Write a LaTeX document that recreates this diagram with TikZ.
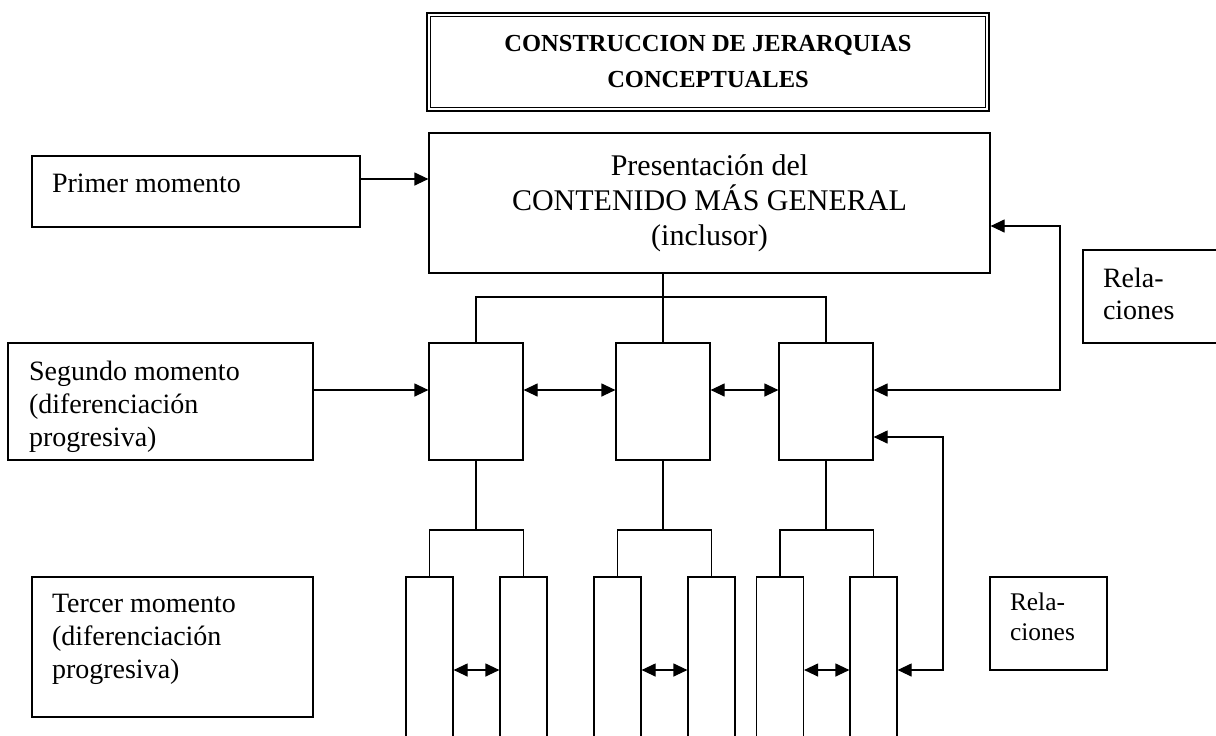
\documentclass[tikz,border=0pt]{standalone}
\usepackage{fontspec}
\setmainfont{Liberation Serif}
\usetikzlibrary{arrows.meta,positioning}
\tikzset{
  box/.style={draw, rectangle, inner sep=0pt},
  lbl/.style={inner sep=0pt, align=left, font=\fontsize{14}{16.5}\selectfont},
}
\begin{document}
\begin{tikzpicture}[x=0.5pt, y=-0.5pt, line width=0.6pt, >={Triangle[length=7pt,width=6.5pt]}]
        \useasboundingbox (0,0) rectangle (1216,735);
        \node[box, line width=1pt, minimum width=281pt, minimum height=49pt, align=center, font=\fontsize{12.25}{18}\selectfont\bfseries] (T0) at (708,62) {CONSTRUCCION DE JERARQUIAS\\CONCEPTUALES};
        \draw[line width=0.5pt] ([shift={(2.25pt,-2.25pt)}]T0.north west) rectangle ([shift={(-2.25pt,2.25pt)}]T0.south east);
        \node[box, minimum width=164pt, minimum height=35.5pt] (A0_0) at (196,191.5) {};
        \node[lbl, below right=9pt and 10pt of A0_0.north west] (A0_0t) {Primer momento};
        \node[box, minimum width=280.5pt, minimum height=70pt, align=center, font=\fontsize{15}{17.5}\selectfont] (A0_1) at (709.5,203) {Presentación del\\CONTENIDO MÁS GENERAL\\(inclusor)};
        \node[box, minimum width=71pt, minimum height=46.5pt] (R1) at (1154,296.5) {};
        \node[lbl, font=\fontsize{14}{16}\selectfont, below right=9pt and 10pt of R1.north west] (R1t) {Rela-\\ciones};
        \node[box, minimum width=152.5pt, minimum height=58.5pt] (A1_0) at (160.5,401.5) {};
        \node[lbl, below right=9pt and 10.5pt of A1_0.north west] (A1_0t) {Segundo momento\\(diferenciación\\progresiva)};
        \node[box, minimum width=47pt, minimum height=58.5pt] (A1_1) at (476,401.5) {};
        \node[box, minimum width=47pt, minimum height=58.5pt] (A1_2) at (663,401.5) {};
        \node[box, minimum width=47pt, minimum height=58.5pt] (A1_3) at (826,401.5) {};
        \node[box, minimum width=140.5pt, minimum height=70pt] (A2_0) at (172.5,647) {};
        \node[lbl, below right=8.5pt and 10pt of A2_0.north west] (A2_0t) {Tercer momento\\(diferenciación\\progresiva)};
        \node[box, minimum width=23.5pt, minimum height=91.5pt] (A2_1) at (429.5,668.5) {};
        \node[box, minimum width=23.5pt, minimum height=91.5pt] (A2_2) at (523.5,668.5) {};
        \node[box, minimum width=23.5pt, minimum height=91.5pt] (A2_3) at (617.5,668.5) {};
        \node[box, minimum width=23.5pt, minimum height=91.5pt] (A2_4) at (711.5,668.5) {};
        \node[box, minimum width=23.5pt, minimum height=91.5pt] (A2_5) at (780,668.5) {};
        \node[box, minimum width=23.5pt, minimum height=91.5pt] (A2_6) at (873.5,668.5) {};
        \node[box, minimum width=58.5pt, minimum height=46.5pt] (R2) at (1048.5,623.5) {};
        \node[lbl, font=\fontsize{12.7}{15}\selectfont, below right=8pt and 10pt of R2.north west] (R2t) {Rela-\\ciones};
        \coordinate (B1) at (663,297);
        \coordinate (C1) at (1060,226);
        \coordinate (C2) at (943,437);
        \path (A0_0.east |- 0,179) edge [->] (A0_1.west |- 0,179);
        \path (A1_0.east |- 0,390) edge [->] (A1_1.west |- 0,390);
        \path (A1_1.east |- 0,390) edge [<->] (A1_2.west |- 0,390);
        \path (A1_2.east |- 0,390) edge [<->] (A1_3.west |- 0,390);
        \draw (A0_1.south -| B1) -- (A1_2.north);
        \draw (A1_1.north) |- (B1) -| (A1_3.north);
        \draw [<->] (A0_1.east |- C1) -- (C1) |- (A1_3.east |- 0,390);
        \draw [<->] (A1_3.east |- C2) -- (C2) |- (A2_6.east |- 0,670);
        \draw (A1_1.south) -- (A1_1.south |- 0,530);
        \draw (A1_2.south) -- (A1_2.south |- 0,530);
        \draw (A1_3.south) -- (A1_3.south |- 0,530);
        \draw (A2_1.north) |- (A1_1.south |- 0,530) -| (A2_2.north);
        \draw (A2_3.north) |- (A1_2.south |- 0,530) -| (A2_4.north);
        \draw (A2_5.north) |- (A1_3.south |- 0,530) -| (A2_6.north);
        \path (A2_1.east |- 0,670) edge [<->] (A2_2.west |- 0,670);
        \path (A2_3.east |- 0,670) edge [<->] (A2_4.west |- 0,670);
        \path (A2_5.east |- 0,670) edge [<->] (A2_6.west |- 0,670);
      \end{tikzpicture}
\end{document}
